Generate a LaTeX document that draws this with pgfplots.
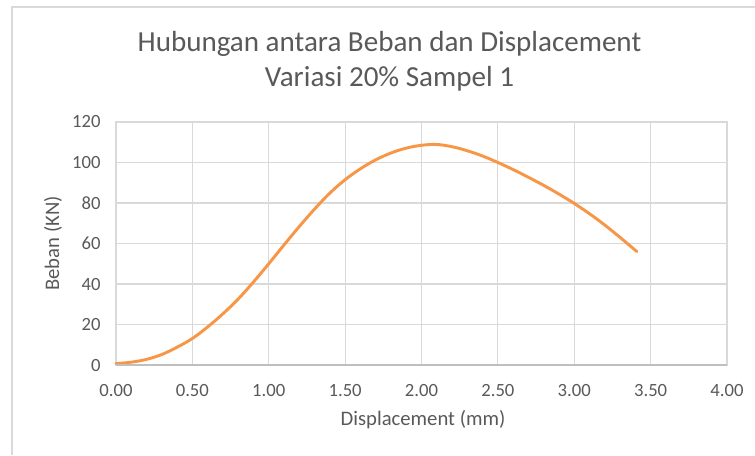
\documentclass[border=0pt]{standalone}
\usepackage{pgfplots}
\pgfplotsset{compat=1.18}
\usepackage{fontspec}
\setmainfont{Carlito}
\definecolor{txtgray}{HTML}{595959}
\definecolor{gridgray}{HTML}{D9D9D9}
\definecolor{axgray}{HTML}{BFBFBF}
\definecolor{lineorange}{HTML}{F79646}
\begin{document}
\begin{tikzpicture}[x=0.75pt,y=0.75pt]
\useasboundingbox (0,0) rectangle (755,455);
\draw[gridgray,line width=1.5pt] (12,0) -- (12,448) -- (756,448);
\begin{axis}[
  at={(87pt,67.5pt)}, anchor=south west,
  scale only axis, width=458.25pt, height=182.25pt,
  xmin=0, xmax=4, ymin=0, ymax=120,
  xtick={0,0.5,...,4}, ytick={0,20,...,120},
  grid=major,
  major grid style={gridgray,line width=0.9pt},
  axis line style={gridgray,line width=0.9pt},
  tick style={draw=none},
  /pgf/number format/assume math mode=true,
  x tick label style={/pgf/number format/fixed,/pgf/number format/fixed zerofill,/pgf/number format/precision=2},
  y tick label style={/pgf/number format/fixed},
  ticklabel style={font=\fontsize{14}{16}\selectfont, text=txtgray},
  xticklabel style={yshift=-11pt},
  yticklabel style={xshift=-8pt},
  clip=false,
]
\addplot[lineorange, line width=2.2pt, smooth, tension=0.6, line join=round, line cap=round] coordinates {
(0.0,0.7) (0.1,1.4) (0.2,2.8) (0.3,5.2) (0.4,8.8) (0.5,13.1) (0.6,18.8) (0.7,25.3)
(0.8,32.6) (0.9,41.0) (1.0,50.0) (1.1,59.3) (1.2,68.4) (1.3,77.0) (1.4,84.9) (1.5,91.5)
(1.6,96.9) (1.7,101.3) (1.8,104.7) (1.9,107.1) (2.0,108.5) (2.1,108.9) (2.2,107.8)
(2.3,105.8) (2.4,103.2) (2.5,100.0) (2.6,96.5) (2.7,92.7) (2.8,88.7) (2.9,84.4)
(3.0,79.8) (3.1,74.7) (3.2,69.1) (3.3,63.0) (3.41,56.0)
};
\draw[axgray,line width=0.9pt] (axis cs:0,0) -- (axis cs:4,0);
\end{axis}
\node[text=txtgray, font=\fontsize{21.8}{26.5}\selectfont, align=center] at (389.5,393.5) {Hubungan antara Beban dan Displacement\\Variasi 20\% Sampel 1};
\node[text=txtgray, font=\fontsize{15.5}{18}\selectfont] at (423,35) {Displacement (mm)};
\node[text=txtgray, font=\fontsize{15.5}{18}\selectfont, rotate=90] at (53,211.5) {Beban (KN)};
\end{tikzpicture}
\end{document}
